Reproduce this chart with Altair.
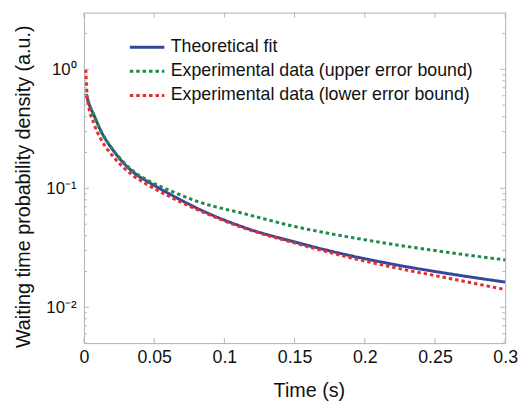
import altair as alt
import pandas as pd

# ---- data ----
series_names = ["Theoretical fit",
                "Experimental data (upper error bound)",
                "Experimental data (lower error bound)"]

fit_t = [0.0015, 0.004, 0.0072, 0.012, 0.0213, 0.035, 0.046, 0.063, 0.081, 0.116,
         0.151, 0.186, 0.221, 0.257, 0.3]
fit_v = [0.62, 0.50, 0.41, 0.305, 0.205, 0.137, 0.113, 0.087, 0.0677, 0.0461,
         0.0352, 0.0278, 0.0229, 0.0194, 0.0163]

up_t = [0.0015, 0.004, 0.0072, 0.012, 0.0213, 0.035, 0.046, 0.063, 0.081, 0.116,
        0.151, 0.186, 0.221, 0.257, 0.3]
up_v = [0.62, 0.50, 0.41, 0.305, 0.207, 0.140, 0.116, 0.094, 0.0775, 0.0605,
        0.0475, 0.0395, 0.0337, 0.0292, 0.0250]

lo_t = [0.0013, 0.0025, 0.0072, 0.012, 0.0213, 0.035, 0.046, 0.063, 0.081, 0.116,
        0.151, 0.186, 0.221, 0.257, 0.3]
lo_v = [1.0, 0.56, 0.346, 0.26, 0.182, 0.128, 0.106, 0.083, 0.066, 0.0455,
        0.0345, 0.0268, 0.0216, 0.0178, 0.0141]

x_ticks = [0, 0.05, 0.1, 0.15, 0.2, 0.25, 0.3]
y_major = [0.01, 0.1, 1]
y_minor = [0.005, 0.006, 0.007, 0.008, 0.009,
           0.02, 0.03, 0.04, 0.05, 0.06, 0.07, 0.08, 0.09,
           0.2, 0.3, 0.4, 0.5, 0.6, 0.7, 0.8, 0.9, 2]

x_title = "Time (s)"
y_title = "Waiting time probability density (a.u.)"

colors = ["#34479c", "#1f8a4c", "#e0302e"]
dashes = [[1, 0], [3.5, 3], [3.5, 3]]

rows = []
for name, ts, vs in zip(series_names, [fit_t, up_t, lo_t], [fit_v, up_v, lo_v]):
    for t, v in zip(ts, vs):
        rows.append({"t": t, "v": v, "series": name})
df = pd.DataFrame(rows)

W, H = 427, 335
xs = alt.Scale(domain=[0, 0.3], nice=False, zero=False)
ys = alt.Scale(type="log", domain=[0.005, 3], nice=False)

xaxis = alt.Axis(values=x_ticks, ticks=False, domain=False, grid=False,
                 labelFlush=False, format="~g",
                 labelFontSize=18, labelPadding=6, labelColor="#111",
                 title=None)
yaxis = alt.Axis(values=y_major, ticks=False, domain=False, grid=False,
                 labelFlush=False,
                 labelFontSize=17, labelPadding=8, labelColor="#111",
                 labelExpr="datum.value == 1 ? '10⁰' : (datum.value == 0.1 ? '10⁻¹' : '10⁻²')",
                 title=y_title,
                 titleFontSize=20, titleFontWeight="normal", titleColor="#111",
                 titleX=-51, titleY=176, titleAngle=270,
                 titleAlign="center", titleBaseline="bottom")

leg = dict(title=None, orient="none", legendX=45, legendY=24,
           symbolType="stroke", symbolSize=1225, symbolStrokeWidth=3,
           labelFontSize=18, labelColor="#111", labelOffset=5,
           clipHeight=22, rowPadding=2.5, padding=0, labelLimit=450)

lines = alt.Chart(df).mark_line(strokeWidth=3, interpolate="monotone").encode(
    x=alt.X("t:Q", scale=xs, axis=xaxis),
    y=alt.Y("v:Q", scale=ys, axis=yaxis),
    color=alt.Color("series:N", scale=alt.Scale(domain=series_names, range=colors),
                    legend=alt.Legend(**leg)),
    strokeDash=alt.StrokeDash("series:N",
                              scale=alt.Scale(domain=series_names, range=dashes),
                              legend=alt.Legend(**leg)),
    order=alt.Order("t:Q"),
)

tick_col = "#b5b5b5"
xt_df = pd.DataFrame({"t": x_ticks})
ymaj_df = pd.DataFrame({"v": y_major})
ymin_df = pd.DataFrame({"v": y_minor})

def X():
    return alt.X("t:Q", scale=xs, axis=xaxis)

def Y():
    return alt.Y("v:Q", scale=ys, axis=yaxis)

bt = alt.Chart(xt_df).mark_rule(color=tick_col).encode(x=X(), y=alt.value(H), y2=alt.value(H - 5))
tt = alt.Chart(xt_df).mark_rule(color=tick_col).encode(x=X(), y=alt.value(0), y2=alt.value(5))
lmaj = alt.Chart(ymaj_df).mark_rule(color=tick_col).encode(y=Y(), x=alt.value(0), x2=alt.value(5))
rmaj = alt.Chart(ymaj_df).mark_rule(color=tick_col).encode(y=Y(), x=alt.value(W), x2=alt.value(W - 5))
lmin = alt.Chart(ymin_df).mark_rule(color=tick_col).encode(y=Y(), x=alt.value(0), x2=alt.value(3))
rmin = alt.Chart(ymin_df).mark_rule(color=tick_col).encode(y=Y(), x=alt.value(W), x2=alt.value(W - 3))

chart = alt.layer(lines, bt, tt, lmaj, rmaj, lmin, rmin).properties(
    width=W, height=H,
    autosize=alt.AutoSizeParams(type="none"),
    padding={"left": 77, "top": 2, "right": 14, "bottom": 58},
    title=alt.TitleParams(x_title, orient="bottom", anchor="middle", fontSize=20,
                          fontWeight="normal", color="#111", dx=15, offset=15,
                          baseline="top", frame="group"),
).configure(font="Liberation Sans").configure_view(
    stroke="#b0b0b0", strokeWidth=1
)

chart.save("out.html", embed_options={"renderer": "svg", "actions": False})
